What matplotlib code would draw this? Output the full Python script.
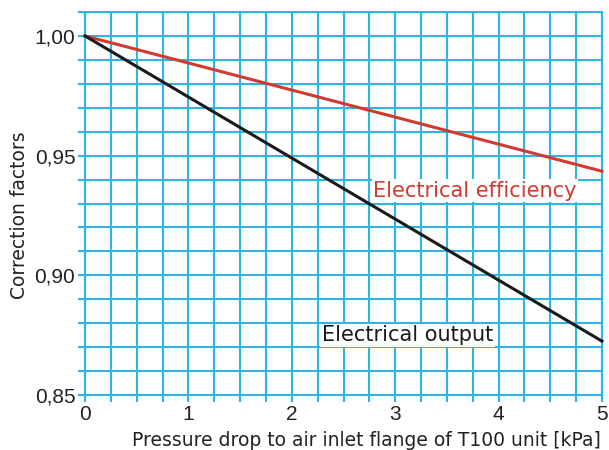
import matplotlib
matplotlib.use("Agg")
import matplotlib.pyplot as plt
import numpy as np
from matplotlib.ticker import MultipleLocator

pressure_drop = [0, 1, 2, 3, 4, 5]
efficiency = [1.000, 0.9887, 0.9774, 0.9661, 0.9548, 0.9435]
output = [1.000, 0.9745, 0.9490, 0.9235, 0.8980, 0.8725]
x_ticklabels = ["0", "1", "2", "3", "4", "5"]
y_ticks = [0.85, 0.90, 0.95, 1.00]
y_ticklabels = ["0,85", "0,90", "0,95", "1,00"]

grid_c = "#30b4e4"
red = "#d2392f"

fig = plt.figure(figsize=(6.09, 4.5), dpi=100)
ax = fig.add_axes([0.1396, 0.1222, 0.8489, 0.8511])
ax.set_xlim(0, 5)
ax.set_ylim(0.85, 1.01)

ax.xaxis.set_minor_locator(MultipleLocator(0.25))
ax.yaxis.set_minor_locator(MultipleLocator(0.01))
ax.set_xticks(pressure_drop)
ax.set_xticklabels(x_ticklabels)
ax.set_yticks(y_ticks)
ax.set_yticklabels(y_ticklabels)
ax.grid(which="both", color=grid_c, linewidth=1.5)
ax.set_axisbelow(True)
for s in ax.spines.values():
    s.set_color(grid_c)
    s.set_linewidth(1.5)
ax.tick_params(which="both", direction="out", length=5, width=1.5, color=grid_c,
               labelsize=15, pad=2, labelcolor="#222222",
               labelfontfamily="Liberation Sans")

ax.plot(pressure_drop, efficiency, color=red, linewidth=2.2, zorder=3, clip_on=False)
ax.plot(pressure_drop, output, color="#1a1a1a", linewidth=2.2, zorder=3, clip_on=False)

ax.text(2.785, 0.9354, "Electrical efficiency", color=red, fontsize=15,
        va="center", ha="left", family="DejaVu Sans",
        bbox=dict(facecolor="white", edgecolor="none", pad=1), zorder=2.5)
ax.text(2.29, 0.875, "Electrical output", color="#1a1a1a", fontsize=15,
        va="center", ha="left", family="DejaVu Sans",
        bbox=dict(facecolor="white", edgecolor="none", pad=1), zorder=2.5)

fig.text(366 / 609, 1 - 440 / 450, "Pressure drop to air inlet flange of T100 unit [kPa]",
         ha="center", va="center", fontsize=13.5, color="#222222", family="DejaVu Sans")
fig.text(20 / 609, 1 - 215 / 450, "Correction factors", rotation=90,
         ha="center", va="center", fontsize=13.5, color="#222222", family="DejaVu Sans")

fig.savefig("out.png", dpi=100)
